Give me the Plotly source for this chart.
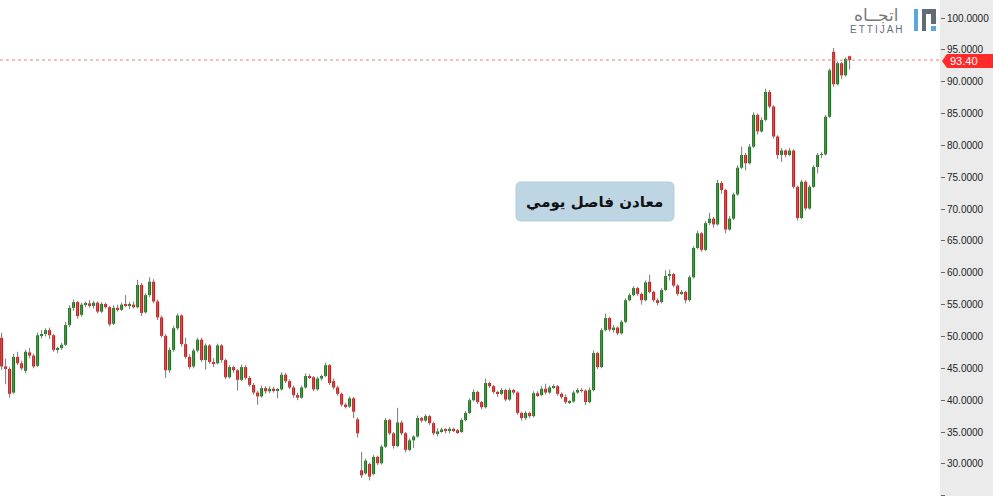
import plotly.graph_objects as go

# daily metals index candles
opens = [
    49.8, 45.3, 44.9, 41.2, 46.8, 45.8, 44.6, 47.5, 47.0, 45.4,
    50.2, 50.4, 51.0, 50.2, 47.9, 48.2, 48.7, 51.8, 54.5, 55.4,
    53.4, 55.0, 55.2, 54.8, 55.3, 53.9, 55.1, 54.6, 52.0, 54.5,
    54.2, 55.0, 54.8, 55.0, 54.6, 58.1, 53.8, 56.5, 58.6, 55.5,
    53.0, 50.1, 44.7, 47.9, 51.3, 53.3, 48.8, 46.8, 45.3, 47.8,
    49.5, 46.3, 48.6, 46.0, 45.8, 48.6, 46.3, 43.6, 45.2, 44.7,
    43.2, 45.2, 43.5, 42.4, 41.2, 40.6, 41.9, 41.4, 41.8, 41.5,
    41.7, 44.0, 43.0, 42.0, 40.8, 40.4, 42.0, 43.8, 43.6, 41.7,
    43.4, 43.8, 45.5, 43.0, 42.0, 41.0, 39.3, 39.0, 40.3, 37.0,
    29.0, 28.5, 30.0, 28.4, 31.1, 30.1, 32.7, 36.9, 34.8, 32.8,
    36.5, 34.8, 32.2, 33.7, 34.3, 37.2, 36.8, 37.5, 36.4, 34.8,
    35.1, 35.4, 35.2, 35.5, 35.3, 35.0, 36.9, 38.0, 40.0, 41.3,
    39.7, 38.9, 42.7, 42.2, 41.3, 41.0, 41.6, 40.1, 41.6, 41.2,
    38.0, 37.2, 38.0, 37.5, 41.1, 40.8, 41.8, 41.2, 42.0, 42.2,
    41.0, 40.5, 39.7, 39.8, 41.2, 41.6, 41.5, 39.7, 41.6, 47.4,
    45.2, 51.0, 52.9, 51.1, 51.4, 50.5, 52.3, 55.7, 56.5, 57.6,
    56.7, 55.7, 58.6, 57.0, 55.7, 55.4, 57.3, 59.5, 59.8, 58.0,
    56.7, 57.0, 55.7, 59.3, 63.9, 66.2, 63.6, 67.8, 68.5, 67.6,
    74.1, 73.0, 66.8, 68.5, 72.3, 76.5, 78.5, 77.2, 79.8, 84.8,
    82.2, 84.0, 88.4, 86.1, 81.4, 78.5, 79.2, 78.5, 79.2, 73.5,
    68.6, 74.3, 70.1, 73.5, 76.6, 78.5, 78.6, 84.5, 94.7, 89.6,
    92.9, 91.0, 94.0,
]
highs = [
    50.6, 46.5, 45.2, 47.3, 47.6, 46.2, 47.9, 48.2, 47.3, 50.6,
    51.0, 51.3, 51.4, 50.4, 48.4, 49.0, 52.3, 54.9, 55.8, 55.6,
    55.3, 55.5, 55.7, 55.6, 55.5, 55.4, 55.3, 54.8, 54.9, 55.0,
    55.3, 56.5, 55.4, 55.5, 58.9, 58.4, 56.8, 59.3, 59.0, 55.8,
    53.3, 50.4, 48.3, 51.7, 53.6, 53.5, 49.8, 47.2, 48.1, 49.8,
    49.8, 48.9, 48.8, 46.6, 48.9, 48.8, 46.5, 45.5, 45.4, 44.9,
    45.6, 45.5, 43.8, 42.7, 41.5, 42.3, 42.2, 42.2, 42.1, 41.9,
    44.4, 44.3, 43.3, 42.3, 41.2, 42.3, 44.2, 44.1, 43.8, 43.7,
    44.0, 45.9, 45.7, 43.4, 42.3, 41.2, 39.6, 40.6, 40.5, 37.3,
    31.9, 30.8, 30.2, 31.4, 31.3, 33.0, 37.2, 37.1, 35.0, 38.8,
    36.8, 35.0, 34.0, 34.5, 37.6, 37.4, 37.8, 37.7, 36.6, 35.6,
    35.7, 35.6, 35.8, 35.7, 35.5, 37.2, 38.3, 40.3, 41.7, 41.5,
    39.9, 43.4, 42.9, 42.4, 41.5, 41.9, 41.8, 41.9, 41.8, 41.4,
    38.2, 38.3, 38.2, 41.4, 41.4, 42.2, 42.6, 42.3, 42.5, 42.4,
    41.2, 40.9, 40.0, 41.5, 41.9, 41.9, 41.7, 42.0, 47.8, 47.6,
    51.3, 53.6, 53.1, 51.8, 51.6, 52.6, 56.0, 56.8, 57.9, 57.8,
    56.9, 58.8, 59.7, 57.2, 56.0, 57.6, 60.4, 60.5, 60.0, 58.2,
    57.3, 57.2, 59.6, 64.2, 66.6, 66.4, 68.1, 69.4, 68.8, 74.6,
    74.4, 73.2, 68.9, 72.6, 76.9, 79.8, 78.8, 80.2, 85.2, 85.0,
    84.4, 88.9, 88.7, 86.3, 81.6, 79.6, 79.4, 79.6, 79.4, 73.7,
    74.6, 74.5, 73.8, 76.9, 78.8, 79.0, 84.8, 92.1, 95.3, 93.2,
    93.1, 93.8, 94.1,
]
lows = [
    44.8, 42.5, 40.4, 41.0, 45.5, 44.7, 44.2, 46.6, 45.0, 45.2,
    49.7, 50.0, 49.6, 47.6, 47.4, 47.9, 48.5, 51.5, 54.0, 52.8,
    53.1, 54.6, 54.5, 54.4, 53.6, 53.7, 54.4, 51.6, 51.8, 53.9,
    54.0, 54.6, 54.3, 54.4, 54.4, 53.2, 53.6, 56.2, 55.2, 52.6,
    49.8, 43.5, 44.3, 47.6, 51.0, 48.4, 46.5, 44.9, 45.0, 47.5,
    46.0, 44.8, 45.7, 45.2, 45.6, 45.9, 43.3, 43.4, 44.3, 41.5,
    43.0, 43.2, 42.1, 40.9, 39.3, 40.4, 41.0, 41.1, 41.2, 40.3,
    41.5, 42.7, 41.7, 40.4, 40.0, 40.2, 41.8, 43.3, 41.4, 41.5,
    43.1, 43.6, 42.4, 41.7, 40.7, 39.0, 38.7, 38.8, 37.2, 34.1,
    27.8, 28.3, 27.4, 28.2, 29.8, 29.9, 32.5, 34.5, 32.4, 32.6,
    34.5, 31.8, 32.0, 32.5, 34.1, 36.5, 36.6, 36.1, 34.5, 34.3,
    34.9, 34.8, 34.8, 35.0, 34.7, 34.9, 36.7, 37.8, 39.8, 39.4,
    38.6, 38.7, 41.9, 41.0, 40.5, 40.8, 39.8, 39.9, 40.9, 37.7,
    36.8, 36.9, 37.2, 37.3, 40.5, 40.6, 40.9, 41.0, 41.8, 40.7,
    40.2, 39.4, 39.4, 39.6, 41.0, 41.2, 39.2, 39.5, 41.4, 44.9,
    45.0, 50.8, 50.8, 50.6, 50.2, 50.3, 52.1, 55.5, 56.3, 56.4,
    55.0, 55.5, 56.8, 55.4, 54.9, 55.2, 57.1, 58.8, 57.7, 56.4,
    56.5, 55.2, 55.5, 59.1, 63.7, 63.3, 63.4, 67.5, 67.1, 67.4,
    72.4, 66.2, 66.6, 68.3, 72.1, 76.3, 76.1, 77.0, 79.6, 81.7,
    82.0, 83.8, 85.8, 81.1, 77.9, 77.4, 78.1, 78.3, 73.2, 68.2,
    68.4, 69.8, 69.9, 73.3, 75.6, 78.0, 78.4, 84.3, 89.2, 89.4,
    90.4, 90.8, 91.9,
]
closes = [
    45.3, 44.9, 41.0, 46.8, 45.8, 45.0, 47.6, 47.0, 45.3, 50.2,
    50.4, 51.0, 50.2, 47.9, 48.2, 48.7, 51.8, 54.5, 55.4, 53.2,
    55.0, 55.2, 54.8, 55.3, 53.9, 55.1, 54.6, 51.9, 54.5, 54.2,
    55.0, 54.8, 55.1, 54.6, 58.1, 53.7, 56.5, 58.6, 55.5, 53.0,
    50.1, 44.7, 47.9, 51.3, 53.3, 48.8, 46.8, 45.2, 47.8, 49.5,
    46.3, 48.6, 46.0, 45.8, 48.6, 46.3, 43.6, 45.2, 44.7, 43.2,
    45.2, 43.5, 42.4, 41.2, 40.6, 41.9, 41.4, 41.8, 41.5, 41.7,
    44.0, 43.0, 42.0, 40.8, 40.4, 42.0, 43.8, 43.6, 41.7, 43.4,
    43.8, 45.5, 42.7, 42.0, 41.0, 39.3, 39.0, 40.3, 38.2, 34.8,
    28.2, 30.5, 28.0, 31.1, 30.1, 32.7, 36.9, 34.8, 32.8, 36.5,
    34.8, 32.2, 33.7, 34.3, 37.2, 36.8, 37.5, 36.4, 34.8, 35.1,
    35.4, 35.2, 35.5, 35.3, 35.0, 36.9, 38.0, 40.0, 41.3, 39.7,
    38.9, 42.7, 42.2, 41.3, 41.0, 41.6, 40.1, 41.6, 41.2, 38.0,
    37.2, 38.0, 37.5, 41.1, 40.8, 41.8, 41.2, 42.0, 42.2, 41.0,
    40.5, 39.7, 39.8, 41.2, 41.6, 41.5, 39.7, 41.6, 47.4, 45.2,
    51.0, 52.9, 51.1, 51.4, 50.5, 52.3, 55.7, 56.5, 57.6, 56.7,
    55.7, 58.5, 57.0, 55.7, 55.4, 57.3, 59.5, 59.8, 58.0, 56.7,
    57.0, 55.7, 59.3, 63.9, 66.2, 63.6, 67.8, 68.5, 67.6, 74.1,
    73.0, 66.8, 68.5, 72.3, 76.5, 78.5, 77.2, 79.8, 84.8, 82.2,
    84.0, 88.4, 86.1, 81.4, 78.5, 79.2, 78.5, 79.2, 73.5, 68.6,
    74.3, 70.1, 73.5, 76.6, 78.5, 78.6, 84.5, 91.8, 89.6, 92.9,
    91.0, 93.6, 93.4,
]
last_price = 93.40
y_ticks = [25, 30, 35, 40, 45, 50, 55, 60, 65, 70, 75, 80, 85, 90, 95, 100]

box_text = "معادن فاصل يومي"
logo_ar = "اتجــاه"
logo_en = "E\u2009T\u2009T\u2009I\u2009J\u2009A\u2009H"

W, H = 993, 496
PLOT_W = 940   # width of the plotting area, rest is the price scale


def pp(x, y):
    # pixel -> paper coords
    return x / PLOT_W, 1 - y / H


def px_rect(x0, y0, x1, y1, color):
    a, b = pp(x0, y0)
    c, d = pp(x1, y1)
    return dict(type="rect", xref="paper", yref="paper", x0=a, y0=d, x1=c, y1=b,
                fillcolor=color, line=dict(width=0), layer="above")


def rounded_path(x0, y0, x1, y1, r):
    def P(x, y):
        a, b = pp(x, y)
        return f"{a:.5f},{b:.5f}"
    pts = [
        "M " + P(x0 + r, y0),
        "L " + P(x1 - r, y0),
        "Q " + P(x1, y0) + " " + P(x1, y0 + r),
        "L " + P(x1, y1 - r),
        "Q " + P(x1, y1) + " " + P(x1 - r, y1),
        "L " + P(x0 + r, y1),
        "Q " + P(x0, y1) + " " + P(x0, y1 - r),
        "L " + P(x0, y0 + r),
        "Q " + P(x0, y0) + " " + P(x0 + r, y0),
    ]
    return " ".join(pts) + " Z"


idx = list(range(len(closes)))

wick_x, wick_y = [], []
for i, h, l in zip(idx, highs, lows):
    wick_x += [i, i, None]
    wick_y += [l, h, None]

body_base = [min(o, c) for o, c in zip(opens, closes)]
body_len = [max(abs(c - o), 0.1) for o, c in zip(opens, closes)]
body_col = ["#008000" if c >= o else "#ff0000" for o, c in zip(opens, closes)]

fig = go.Figure()
fig.add_trace(go.Scatter(
    x=wick_x, y=wick_y, mode="lines",
    line=dict(color="#7a7a7a", width=1),
    hoverinfo="skip"
))
fig.add_trace(go.Bar(
    x=idx, y=body_len, base=body_base, width=0.75,
    marker=dict(color=body_col, line=dict(width=0)),
    hoverinfo="skip"
))

shapes = [
    # last price line
    dict(type="line", xref="paper", yref="y", x0=0, x1=1, y0=last_price, y1=last_price,
         line=dict(color="#e88080", width=1, dash="3px,3px")),
    # rounded label box
    dict(type="path", xref="paper", yref="paper", path=rounded_path(516, 182, 674, 221, 5),
         fillcolor="#bed5e3", line=dict(color="#b3cddd", width=1), layer="above"),
    # logo icon
    px_rect(914, 9, 918, 31, "#5aa7de"),
    px_rect(922, 9, 936, 14, "#5f6b75"),
    px_rect(922, 9, 926, 31, "#5f6b75"),
    px_rect(931, 9, 936, 24, "#5f6b75"),
    px_rect(931, 26, 936, 31, "#5aa7de"),
]

# red price tag on the scale
tip = pp(942, 61)
tl = pp(947, 54)
br = pp(993, 68)
shapes.append(dict(
    type="path", xref="paper", yref="paper",
    path=(f"M {tip[0]:.5f},{tip[1]:.5f} L {tl[0]:.5f},{tl[1]:.5f} L {br[0]:.5f},{tl[1]:.5f} "
          f"L {br[0]:.5f},{br[1]:.5f} L {tl[0]:.5f},{br[1]:.5f} Z"),
    fillcolor="#ff2a2a", line=dict(width=0), layer="above"))

tx, ty = pp(948, 61)
bx, by = pp(594, 202)
ax, ay = pp(876, 15)
ex, ey = pp(876, 29)

fig.update_layout(
    width=W, height=H,
    margin=dict(l=0, r=W - PLOT_W, t=0, b=0),
    paper_bgcolor="#ebebeb",
    plot_bgcolor="white",
    showlegend=False,
    xaxis=dict(visible=False, range=[-0.4, 234.6]),
    yaxis=dict(
        side="right", range=[24.96, 102.83],
        tickvals=y_ticks, tickformat=".4f",
        ticks="outside", ticklen=4, tickcolor="#666666", tickwidth=1,
        showgrid=False, zeroline=False, showline=False,
        tickfont=dict(family="Liberation Sans", size=10, color="#222222"),
        fixedrange=True,
    ),
    shapes=shapes,
    annotations=[
        dict(xref="paper", yref="paper", x=tx, y=ty, xanchor="left", yanchor="middle",
             text=f"{last_price:.2f}", showarrow=False,
             font=dict(family="Liberation Sans", size=11, color="white")),
        dict(xref="paper", yref="paper", x=bx, y=by, xanchor="center", yanchor="middle",
             text=f"<b>{box_text}</b>", showarrow=False,
             font=dict(family="DejaVu Sans", size=15, color="#111111")),
        dict(xref="paper", yref="paper", x=ax, y=ay, xanchor="center", yanchor="middle",
             text=logo_ar, showarrow=False,
             font=dict(family="DejaVu Sans", size=17, color="#7a7a7a")),
        dict(xref="paper", yref="paper", x=ex, y=ey, xanchor="center", yanchor="middle",
             text=logo_en, showarrow=False,
             font=dict(family="Liberation Sans", size=10, color="#66707a")),
    ],
)

fig.write_html("out.html", config={"displayModeBar": False},
               post_script="document.body.style.margin='0';")
